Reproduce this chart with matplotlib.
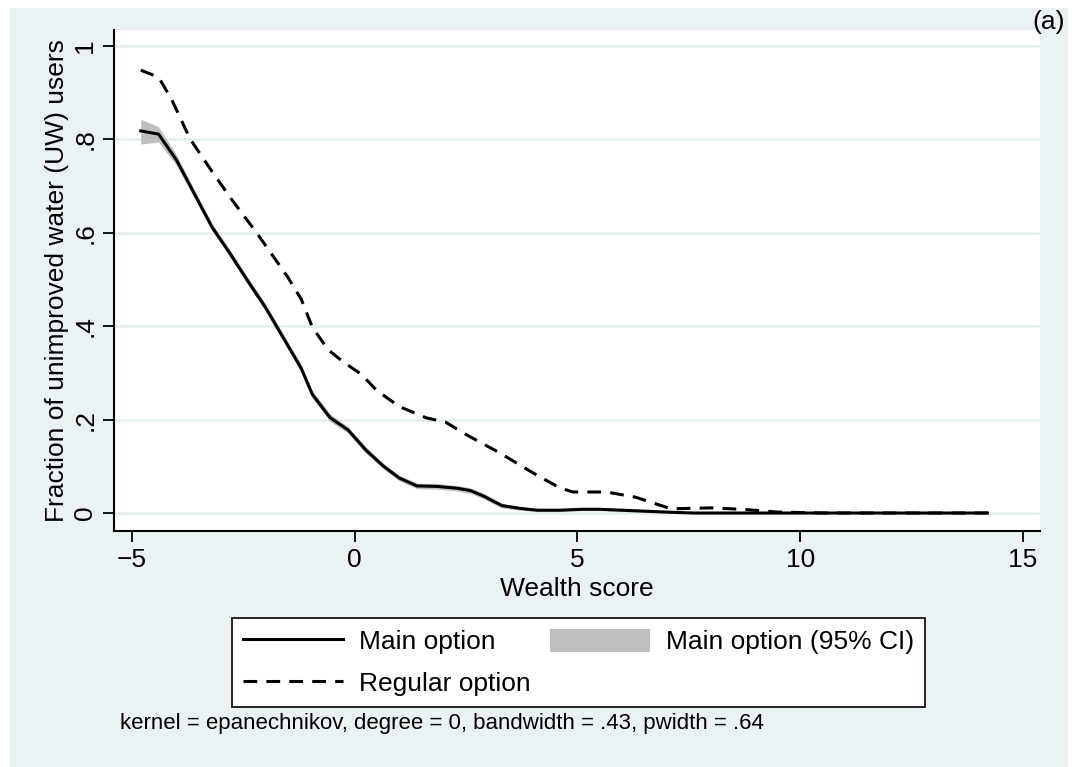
import numpy as np
import matplotlib.pyplot as plt
from matplotlib.patches import Rectangle, Patch
from matplotlib.lines import Line2D

plt.rcParams['font.family'] = ['Liberation Sans', 'DejaVu Sans']

# lpoly smooth of main option with 95% CI
main_x = [-4.8, -4.4, -4.0, -3.6, -3.2, -2.8, -2.4, -2.0, -1.6, -1.2, -0.95, -0.55,
          -0.15, 0.25, 0.65, 1.0, 1.4, 1.85, 2.3, 2.6, 2.9, 3.3, 3.7, 4.1, 4.6, 5.1,
          5.5, 6.0, 6.5, 7.0, 7.6, 8.5, 9.5, 10.5, 11.5, 12.5, 13.5, 14.2]
main_y = [0.818, 0.811, 0.756, 0.684, 0.612, 0.556, 0.497, 0.440, 0.375, 0.310, 0.254, 0.204,
          0.178, 0.135, 0.100, 0.075, 0.058, 0.057, 0.053, 0.048, 0.036, 0.016, 0.010, 0.006, 0.006, 0.008,
          0.008, 0.006, 0.004, 0.002, 0.0, 0.0, 0.0, 0.0, 0.0, 0.0, 0.0, 0.0]
ci_lo = [0.790, 0.794, 0.744, 0.675, 0.604, 0.548, 0.489, 0.432, 0.367, 0.302, 0.246, 0.196,
         0.171, 0.128, 0.094, 0.069, 0.052, 0.051, 0.047, 0.042, 0.030, 0.011, 0.006, 0.003, 0.003, 0.005,
         0.005, 0.003, 0.001, 0.0, 0.0, 0.0, 0.0, 0.0, 0.0, 0.0, 0.0, 0.0]
ci_hi = [0.843, 0.827, 0.767, 0.693, 0.620, 0.564, 0.505, 0.448, 0.383, 0.318, 0.262, 0.212,
         0.185, 0.142, 0.106, 0.081, 0.064, 0.063, 0.059, 0.054, 0.042, 0.021, 0.014, 0.009, 0.009, 0.011,
         0.011, 0.009, 0.007, 0.005, 0.002, 0.0, 0.0, 0.0, 0.0, 0.0, 0.0, 0.0]

# regular option
reg_x = [-4.8, -4.4, -4.1, -3.7, -3.2, -2.75, -2.2, -1.5, -1.2, -0.95, -0.6, -0.25, 0.15,
         0.5, 1.0, 1.6, 2.05, 2.5, 3.25, 4.0, 4.6, 4.9, 5.65, 6.3, 7.1, 8.0, 8.7, 9.5,
         10.5, 11.5, 12.5, 13.5, 14.2]
reg_y = [0.948, 0.933, 0.884, 0.802, 0.731, 0.670, 0.600, 0.505, 0.458, 0.398, 0.350, 0.323, 0.297,
         0.262, 0.228, 0.204, 0.194, 0.168, 0.129, 0.086, 0.054, 0.045, 0.045, 0.034, 0.009, 0.011, 0.008, 0.002,
         0.0, 0.0, 0.0, 0.0, 0.0]

yticks = [0, 0.2, 0.4, 0.6, 0.8, 1]
ytick_labels = ['0', '.2', '.4', '.6', '.8', '1']
xticks = [-5, 0, 5, 10, 15]

bg = '#EAF2F3'
W, H = 1077, 767

fig = plt.figure(figsize=(W / 100, H / 100), dpi=100, facecolor='white')
fig.patches.append(Rectangle((10 / W, -0.02), (1068 - 10) / W, (H - 8) / H + 0.02,
                             transform=fig.transFigure, facecolor=bg,
                             edgecolor='none', zorder=-10))

ax = fig.add_axes([114 / W, 1 - 531 / H, (1040 - 114) / W, (531 - 30) / H])
ax.set_facecolor('white')

ax.fill_between(main_x, ci_lo, ci_hi, color='#BEBEBE', lw=0, zorder=2)
ax.plot(main_x, main_y, color='black', lw=2.2, zorder=3)
ax.plot(reg_x, reg_y, color='black', lw=2.2, ls=(0, (4.5, 3)), zorder=3)

ax.set_xlim(-5.4, 15.38)
ax.set_ylim(-0.0385, 1.034)
ax.set_xticks(xticks)
ax.set_yticks(yticks)
ax.set_yticklabels(ytick_labels, rotation=90, va='center')
ax.tick_params(labelsize=19, length=8, width=1.3, pad=4)
ax.yaxis.grid(True, color='#E3EDEF', lw=1.8)
ax.set_axisbelow(True)
for s in ['top', 'right']:
    ax.spines[s].set_visible(False)
for s in ['left', 'bottom']:
    ax.spines[s].set_linewidth(1.5)

ax.set_xlabel('Wealth score', fontsize=19, labelpad=4)
ax.set_ylabel('Fraction of unimproved water (UW) users', fontsize=19, labelpad=3)

handles = [Line2D([], [], color='black', lw=2.2),
           Line2D([], [], color='black', lw=2.2, ls=(0, (4.5, 3))),
           Patch(facecolor='#BEBEBE', edgecolor='none')]
labels = ['Main option', 'Regular option', 'Main option (95% CI)']
leg = fig.legend(handles, labels, ncol=2, loc='upper left',
                 bbox_to_anchor=(232 / W, 1 - 618 / H), fontsize=19,
                 handlelength=3.8, handleheight=1.0, handletextpad=0.6,
                 columnspacing=0.75, labelspacing=0.6, borderpad=0.4,
                 borderaxespad=0, frameon=True, fancybox=False,
                 edgecolor='black', framealpha=1)
leg.get_frame().set_linewidth(1.2)

fig.text(1065 / W, 1 - 22 / H, '(a)', ha='right', va='center', fontsize=19)
fig.text(120 / W, 1 - 724 / H,
         'kernel = epanechnikov, degree = 0, bandwidth = .43, pwidth = .64',
         ha='left', va='center', fontsize=16)

fig.savefig('out.png', dpi=100)
